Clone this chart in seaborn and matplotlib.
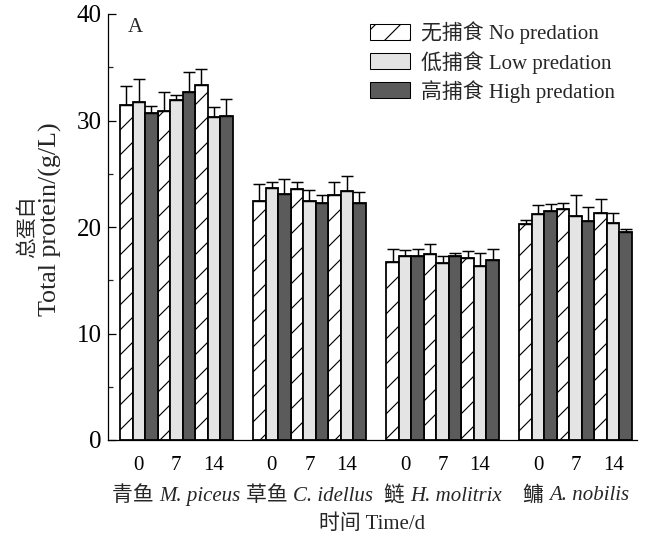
import numpy as np
import pandas as pd
import matplotlib
matplotlib.use("Agg")
import matplotlib.pyplot as plt
import matplotlib.transforms as mtransforms
from matplotlib.patches import Patch
from matplotlib.offsetbox import TextArea, HPacker, AnnotationBbox
from matplotlib.ticker import MultipleLocator
import seaborn as sns

# data (mean, upper error bar)
species_cn = ["青鱼", "草鱼", "鲢", "鳙"]
species_latin = ["M. piceus", "C. idellus", "H. molitrix", "A. nobilis"]
days = ["0", "7", "14"]
pred_labels = ["无捕食 No predation", "低捕食 Low predation", "高捕食 High predation"]

# order: species x day (12 values)
no_pred = [31.5, 30.9, 33.3, 22.45, 23.6, 23.0, 16.7, 17.45, 17.05, 20.25, 21.7, 21.3]
no_sd = [1.7, 1.8, 1.5, 1.6, 0.65, 1.25, 1.2, 1.0, 0.65, 0.45, 0.6, 1.3]
low_pred = [31.7, 31.9, 30.3, 23.65, 22.4, 23.4, 17.3, 16.6, 16.35, 21.25, 21.0, 20.4]
low_sd = [2.2, 0.5, 1.0, 0.6, 1.1, 1.35, 0.5, 0.7, 1.2, 0.85, 2.0, 0.9]
high_pred = [30.7, 32.7, 30.4, 23.1, 22.3, 22.3, 17.3, 17.3, 16.9, 21.5, 20.55, 19.55]
high_sd = [0.7, 1.9, 1.6, 1.4, 0.7, 1.0, 0.6, 0.3, 1.0, 0.7, 1.35, 0.25]

DPI = 75
FS = 20
GROUP_STEP = 10.64

sns.set_theme(style="ticks")
plt.rcParams["font.family"] = ["Liberation Serif", "Noto Sans CJK SC"]
plt.rcParams["hatch.linewidth"] = 1.1
plt.rcParams["axes.unicode_minus"] = False

# long table with bar positions
rows = []
for p, (vals, sds) in enumerate([(no_pred, no_sd), (low_pred, low_sd), (high_pred, high_sd)]):
    for i in range(12):
        g, t = divmod(i, 3)
        rows.append({"pos": g * GROUP_STEP + t * 3 + p, "value": vals[i],
                     "sd": sds[i], "pred": pred_labels[p]})
df = pd.DataFrame(rows)

colors = ["white", "#e4e4e4", "#5b5b5b"]
palette = dict(zip(pred_labels, colors))

fig = plt.figure(figsize=(649 / DPI, 535 / DPI), dpi=DPI)
ax = fig.add_axes([108 / 649, 1 - 440 / 535, 529 / 649, 426 / 535])

sns.barplot(data=df, x="pos", y="value", hue="pred", palette=palette,
            native_scale=True, dodge=False, width=1, errorbar=None,
            saturation=1, edgecolor="black", linewidth=1.7, legend=False, ax=ax)

for bar in ax.patches:
    fc = bar.get_facecolor()
    if fc[0] > 0.99 and fc[1] > 0.99:
        bar.set_hatch("/")

ax.errorbar(df["pos"], df["value"], yerr=[np.zeros(len(df)), df["sd"]],
            fmt="none", ecolor="black", elinewidth=1.4, capsize=5.5, capthick=1.4,
            zorder=3)

ax.set_xlim(-1.46, 3 * GROUP_STEP + 8.9)
ax.set_ylim(0, 40)
ax.yaxis.set_major_locator(MultipleLocator(10))
ax.yaxis.set_minor_locator(MultipleLocator(5))
ax.tick_params(axis="y", which="major", direction="in", length=8, width=1.2,
               labelsize=24, pad=6, colors="black")
ax.tick_params(axis="y", which="minor", direction="in", length=5, width=1.2, left=True)
ax.tick_params(axis="x", length=0, labelsize=FS, pad=15, colors="black")

tick_pos = [g * GROUP_STEP + t * 3 + 1 for g in range(4) for t in range(3)]
ax.set_xticks(tick_pos)
ax.set_xticklabels(days * 4)
ax.set_xlabel("")
ax.set_ylabel("")

for s in ["top", "right"]:
    ax.spines[s].set_visible(False)
for s in ["left", "bottom"]:
    ax.spines[s].set_linewidth(1.2)
    ax.spines[s].set_color("black")

# y label, two lines
fig.text(28 / 649, 1 - 227 / 535, "总蛋白", rotation=90, ha="center", va="center",
         fontsize=FS)
fig.text(50 / 649, 1 - 219 / 535, "Total protein/(g/L)", rotation=90, ha="center",
         va="center", fontsize=25)

# species names under the day ticks
trans = mtransforms.blended_transform_factory(ax.transData, ax.transAxes)
for g in range(4):
    box = HPacker(children=[
        TextArea(species_cn[g] + " ", textprops=dict(fontsize=FS)),
        TextArea(species_latin[g], textprops=dict(fontsize=FS, style="italic")),
    ], sep=0, align="baseline")
    ab = AnnotationBbox(box, (g * GROUP_STEP + 4, -0.131), xycoords=trans,
                        box_alignment=(0.5, 0.5), frameon=False, pad=0,
                        annotation_clip=False)
    ax.add_artist(ab)

ax.text(0.5, -0.198, "时间 Time/d", transform=ax.transAxes, ha="center",
        va="center", fontsize=FS)
ax.text(0.038, 0.969, "A", transform=ax.transAxes, ha="left", va="center",
        fontsize=FS)

handles = [Patch(facecolor=c, edgecolor="black", linewidth=1.0,
                 hatch="/" if c == "white" else None) for c in colors]
ax.legend(handles, pred_labels, loc="upper left", bbox_to_anchor=(0.495, 0.982),
          frameon=False, fontsize=FS, handlelength=1.95, handleheight=0.8,
          handletextpad=0.5, labelspacing=0.3, borderpad=0, borderaxespad=0)

fig.savefig("out.png", dpi=DPI)
